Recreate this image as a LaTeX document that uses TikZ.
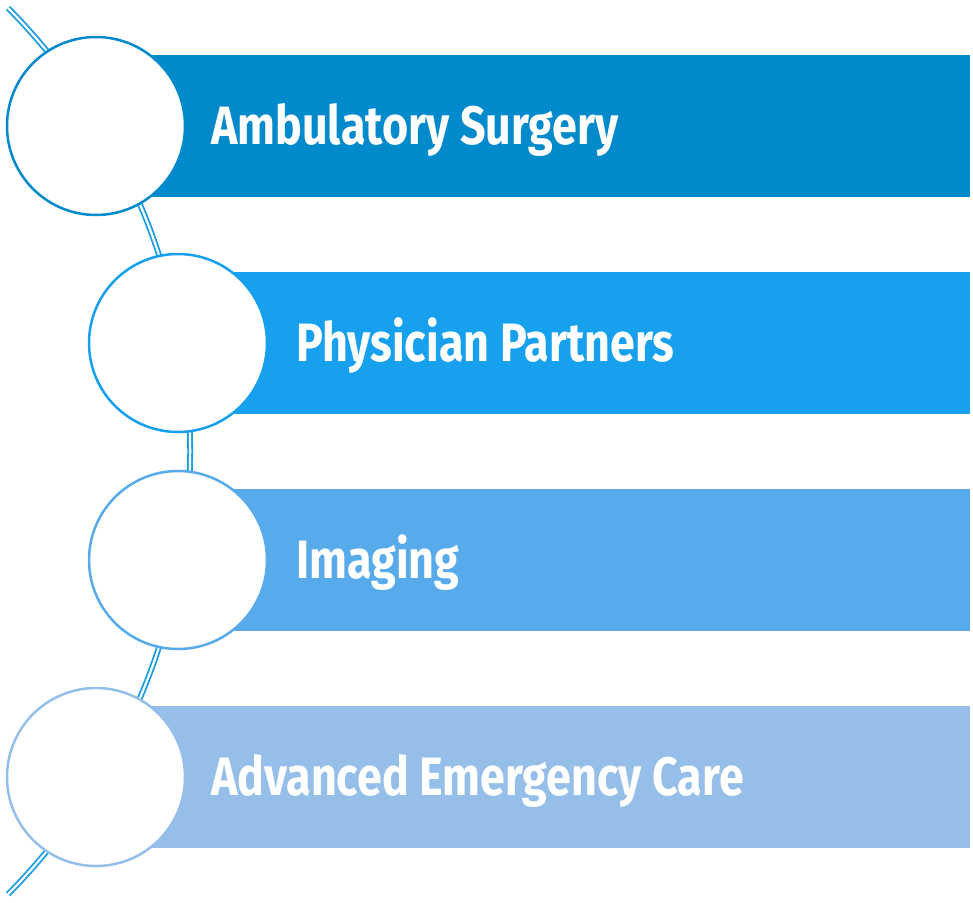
\documentclass[tikz,border=0pt]{standalone}
\usepackage{fontspec}
\setmainfont[FakeStretch=0.83]{Fira Sans}
\definecolor{cA}{RGB}{0,138,204}
\definecolor{cB}{RGB}{22,160,238}
\definecolor{cC}{RGB}{88,171,234}
\definecolor{cD}{RGB}{149,191,232}
\definecolor{cLine}{RGB}{28,156,224}
\begin{document}
\begin{tikzpicture}[x=1pt,y=1pt,
  barbox/.style={fill=#1, draw=none, anchor=north west, minimum height=142pt, inner sep=0pt},
  ring/.style={circle, draw=#1, fill=white, line width=2.5pt, minimum size=178pt, inner sep=0pt},
  label/.style={anchor=base west, inner sep=0pt, text=white, font=\fontsize{54}{60}\selectfont\bfseries},
  track/.style={draw=cLine, line width=1.8pt, double=white, double distance=2.2pt}]
\useasboundingbox (0,0) rectangle (973,-902);
% track
\coordinate (ltop) at (8,-8);
\draw[track] (ltop) arc[start angle=44.7, end angle=-44.7, radius=630];
% bars
\node[barbox=cA, minimum width=874pt] (b1) at (96,-55) {};
\node[barbox=cB, minimum width=792pt] (b2) at (178,-272) {};
\node[barbox=cC, minimum width=792pt] (b3) at (178,-489) {};
\node[barbox=cD, minimum width=874pt] (b4) at (96,-706) {};
% circles
\node[ring=cA] (r1) at (96,-126) {};
\node[ring=cB] (r2) at (178,-343) {};
\node[ring=cC] (r3) at (178,-560) {};
\node[ring=cD] (r4) at (96,-777) {};
% labels
\node[label] (t1) at (211,-144) {Ambulatory Surgery};
\node[label] (t2) at (296,-361) {Physician Partners};
\node[label] (t3) at (296,-578) {Imaging};
\node[label] (t4) at (211,-795) {Advanced Emergency Care};
\end{tikzpicture}
\end{document}
